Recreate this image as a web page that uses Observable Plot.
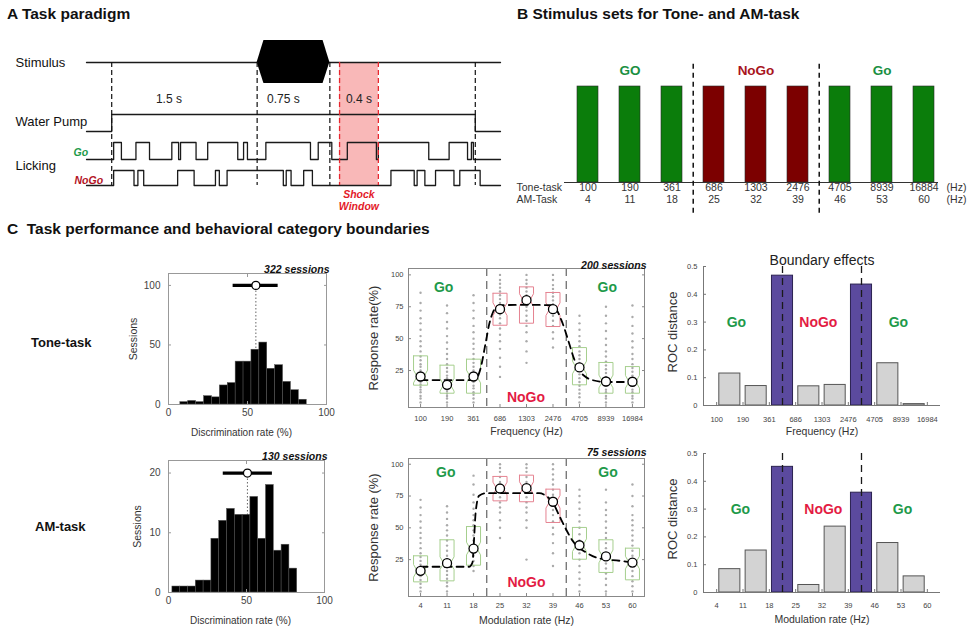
<!DOCTYPE html>
<html><head><meta charset="utf-8">
<script src="https://cdn.jsdelivr.net/npm/d3@7"></script>
<script src="https://cdn.jsdelivr.net/npm/@observablehq/plot@0.6"></script>
<style>
body{margin:0;background:#fff;}
#root{position:relative;width:972px;height:633px;overflow:hidden;background:#fff;font-family:'Liberation Sans',Arial,Helvetica,sans-serif;}
</style></head><body><div id="root"></div>
<script>
// ---------------- DATA ----------------
// Panel A: trial timing (seconds from trial start)
const traceSpan = [-0.26, 4.01];
const eventTimes = [0, 1.5, 2.25, 3.75];
const stimOn = [1.5, 2.25];
const stimRamp = 0.07;
const pumpOn = [0, 3.75];
const shockWindow = [2.35, 2.75];
const goLicks = [[0.02,0.10],[0.25,0.39],[0.62,0.69],[0.71,0.87],[0.99,1.30],[1.36,1.40],[1.59,2.05],[2.13,2.27],[2.43,2.73],[2.75,3.27],[3.48,3.67],[3.71,3.73]];
const nogoLicks = [[0.02,0.23],[0.27,0.33],[0.68,0.85],[1.07,1.11],[1.19,1.77],[1.80,1.85],[1.98,2.07],[2.88,3.12],[3.15,3.23],[3.34,3.53],[3.59,3.80]];
const durationTimes = [0.59, 1.77, 2.55];
const durationLabels = ["1.5 s", "0.75 s", "0.4 s"];

// Panel B: stimulus sets
const toneStimuli = ["100","190","361","686","1303","2476","4705","8939","16884"];
const amStimuli = ["4","11","18","25","32","39","46","53","60"];
const stimCategory = ["Go","Go","Go","NoGo","NoGo","NoGo","Go","Go","Go"];
const groupLabels = [{s:"190", label:"GO", c:"Go"}, {s:"1303", label:"NoGo", c:"NoGo"}, {s:"8939", label:"Go", c:"Go"}];

// Panel C: histograms of discrimination rate (5 % bins)
const histBin = 5;
const toneHistStart = 7.5;
const toneHistCounts = [2,3,2,7,6,16,18,36,36,46,52,30,33,19,12,4];
const toneMean = 55.3, toneErr = [40.9, 69.4];
const amHistStart = 2.5;
const amHistCounts = [1,1,1,2,2,9,12,14,13,13,16,9,18,7,8,4];
const amMean = 50.6, amErr = [35.1, 66.6];

// Panel C: response rates
const toneTickLabels = ["100","190","361","686","1303","2476","4705","8939","16984"];
const amTickLabels = ["4","11","18","25","32","39","46","53","60"];
const toneQ1 = [13.5, 7.2, 7.2, 60.5, 62.1, 59.5, 13.8, 7.2, 7.2];
const toneQ3 = [36.5, 29.2, 33.9, 85.6, 90.6, 86.2, 43.0, 31.3, 28.1];
const toneMed = [20.3, 13.8, 20.3, 73.1, 80.2, 73.1, 27.4, 16.4, 16.2];
const toneMeanRate = [20.3, 13.8, 20.3, 73.1, 80.2, 73.1, 27.4, 16.4, 16.2];
const amQ1 = [7.5, 8.3, 20.6, 71.2, 70.5, 54.2, 25.3, 14.9, 9.1];
const amQ3 = [28.0, 40.6, 51.0, 90.4, 91.4, 80.4, 50.3, 40.6, 34.0];
const amMed = [16.2, 22.2, 33.7, 80.9, 81.2, 70.5, 36.3, 27.5, 22.7];
const amMeanRate = [16.2, 22.2, 33.7, 80.9, 81.2, 70.5, 36.3, 27.5, 22.7];
const toneFit = [[0,17.5],[1,17.5],[2,17.5],[2.15,20],[2.27,27],[2.46,47],[2.6,62],[2.73,70.5],[2.85,74.5],[3,76.2],[4,76.5],[4.97,76.2],[5.15,72],[5.35,62.7],[5.6,47],[5.8,33.9],[6,24.8],[6.2,20.5],[6.38,18.2],[7,16],[8,16]];
const amFit = [[0,19.4],[1,19.4],[1.83,19.4],[1.96,22.7],[2.02,41],[2.08,62],[2.21,75.2],[2.46,77.2],[3,77.2],[4,77.2],[4.48,77.2],[4.73,75.2],[4.99,69.9],[5.24,59.4],[5.49,48.9],[5.74,39.8],[6.25,30.6],[6.75,25.9],[7.51,24.1],[8,22.7]];
const toneDots = [
  [0,3,5,8,10,12,14,16,18,20,22,25,28,30,33,36,40,44,48,52,57,62,66,72,78,86],
  [0,3,5,7,9,11,13,15,17,19,21,24,27,30,34,38,42,47,52,58,63,70,76],
  [0,3,6,8,11,13,16,19,22,25,28,31,34,38,42,46,50,55,60,66,72,78,84],
  [20,28,35,42,48,53,58,62,66,69,72,75,78,81,84,87,90,93,96,100],
  [31,40,48,55,60,64,68,72,75,78,81,84,87,90,93,96,100],
  [43,50,55,60,64,68,71,74,77,80,83,86,89,92,96,100],
  [0,4,7,10,13,16,19,22,25,28,31,34,37,40,44,48,52,57,62,68],
  [0,3,5,8,10,13,15,18,20,23,26,29,32,36,40,45,50,56,62,68,75],
  [0,3,5,8,10,13,15,18,21,24,27,30,34,38,43,48,54,60,67,76]
];
const amDots = [
  [0,3,6,9,12,15,18,21,24,27,30,34,38,42,46,50,55,60,66,72],
  [0,4,7,10,13,16,19,22,25,28,32,36,40,44,48,52,57,62,67],
  [16,20,24,28,32,36,40,44,48,52,56,60,65,70,76,84,91],
  [42,50,56,62,66,70,74,78,82,86,90,94,97,100],
  [25,50,56,62,66,70,74,78,82,86,90,94,97,100],
  [20,30,38,45,50,55,60,64,68,72,76,80,84,88,92,96,100],
  [0,5,10,15,20,25,30,35,40,45,50,55,60,65,70,75,80],
  [0,5,10,14,18,22,26,30,34,38,42,46,50,55,60,64,70,80],
  [0,4,8,12,16,20,24,28,32,36,40,44,48,52,56,60,67,75,84]
];

// Panel C: ROC distance between neighbouring stimuli
const toneRoc = [0.115, 0.070, 0.467, 0.069, 0.074, 0.435, 0.152, 0.005];
const amRoc = [0.084, 0.151, 0.452, 0.027, 0.237, 0.359, 0.178, 0.058];
const boundaryPairs = [2, 5];

// ---------------- STYLE / HELPERS ----------------
const FONT = "'Liberation Sans', Arial, Helvetica, sans-serif";
const GO_C = "#1e9a4a", NOGO_C = "#e31b43";
const B_GREEN = "#0b7d0b", B_RED = "#7c0000", B_GO_T = "#1a8f42", B_NOGO_T = "#a8141c";
const TICK_C = "#444", AX_C = "#333";
const base = {background:"transparent", fontFamily:FONT, overflow:"visible"};
const root = document.getElementById("root");
function place(node, left, top, z) {
  node.style.position = "absolute"; node.style.left = left + "px"; node.style.top = top + "px";
  if (z) node.style.zIndex = z;
  root.appendChild(node);
}
function label(text, left, top, css) {
  const d = document.createElement("div"); d.textContent = text;
  d.style.cssText = "white-space:pre;color:#111;font-family:" + FONT + ";" + css;
  place(d, left, top);
}
const blank = () => "";

// ---------------- PANEL A ----------------
const AY = {stim:62, stimTop:40, stimBot:83, pumpLo:131, pumpHi:114, goLo:159, goHi:142, nogoLo:185, nogoHi:170, dur:99};
function steps(bouts, lo, hi) {
  const pts = [{t:traceSpan[0], y:lo}];
  for (const [a, b] of bouts) pts.push({t:a, y:lo}, {t:a, y:hi}, {t:b, y:hi}, {t:b, y:lo});
  pts.push({t:traceSpan[1], y:lo});
  return pts;
}
const hex = [
  {t:stimOn[0], y1:AY.stim, y2:AY.stim},
  {t:stimOn[0] + stimRamp, y1:AY.stimBot, y2:AY.stimTop},
  {t:stimOn[1] - stimRamp, y1:AY.stimBot, y2:AY.stimTop},
  {t:stimOn[1], y1:AY.stim, y2:AY.stim}
];
const traceStyle = {x:"t", y:"y", stroke:"#1a1a1a", strokeWidth:1.3};
const rowLabels = [{label:"Stimulus", y:AY.stim}, {label:"Water Pump", y:121}, {label:"Licking", y:165}];
const panelA = Plot.plot({
  width:500, height:215, margin:0, style:base,
  x:{domain:traceSpan, range:[86, 500], axis:null},
  y:{domain:[0, 215], range:[0, 215], axis:null},
  marks:[
    Plot.rect([shockWindow], {x1:d => d[0], x2:d => d[1], y1:AY.stim, y2:AY.nogoLo, fill:"#f9b8b8"}),
    Plot.line([{t:traceSpan[0], y:AY.stim}, {t:traceSpan[1], y:AY.stim}], traceStyle),
    Plot.areaY(hex, {x:"t", y1:"y1", y2:"y2", fill:"#000"}),
    Plot.line(steps([pumpOn], AY.pumpLo, AY.pumpHi), traceStyle),
    Plot.line(steps(goLicks, AY.goLo, AY.goHi), traceStyle),
    Plot.line(steps(nogoLicks, AY.nogoLo, AY.nogoHi), traceStyle),
    Plot.ruleX(eventTimes, {y1:AY.stim, y2:AY.nogoLo, stroke:"#111", strokeWidth:1.2, strokeDasharray:"5,3"}),
    Plot.ruleX(shockWindow, {y1:AY.stim, y2:AY.nogoLo, stroke:"#e8262e", strokeWidth:1.3, strokeDasharray:"5,3"}),
    Plot.text(durationTimes, {x:d => d, y:AY.dur, text:(d, i) => durationLabels[i], fontSize:12, fill:"#222"}),
    Plot.text(rowLabels, {frameAnchor:"left", dx:15, y:"y", text:"label", textAnchor:"start", fontSize:13, fill:"#111"}),
    Plot.text(["Go"], {frameAnchor:"left", dx:73, y:152, textAnchor:"start", fontSize:10.5, fontWeight:"bold", fontStyle:"italic", fill:GO_C}),
    Plot.text(["NoGo"], {frameAnchor:"left", dx:74, y:180, textAnchor:"start", fontSize:10.5, fontWeight:"bold", fontStyle:"italic", fill:"#b3131f"}),
    Plot.text(["Shock", "Window"], {x:(shockWindow[0] + shockWindow[1]) / 2, y:(d, i) => 194 + i * 12, fontSize:10.5, fontWeight:"bold", fontStyle:"italic", fill:"#e31b2a"})
  ]
});
place(panelA, 0, 0, 2);

// ---------------- PANEL B ----------------
const bStep = (482 - 74 - 26) / 9;
const bRowText = {fontSize:10.5, fill:AX_C};
const panelB = Plot.plot({
  width:482, height:220, marginLeft:74, marginRight:26, marginTop:86, marginBottom:38, style:base,
  x:{type:"band", domain:toneStimuli, paddingInner:0.5, paddingOuter:0.25, axis:null},
  y:{domain:[0, 1], axis:null},
  marks:[
    Plot.barY(toneStimuli.map((s, i) => ({s, c:stimCategory[i], v:1})), {x:"s", y:"v", fill:d => d.c === "Go" ? B_GREEN : B_RED, stroke:"#2a2a2a", strokeWidth:0.6}),
    Plot.ruleY([0], {insetRight:8, stroke:"#333", strokeWidth:1}),
    Plot.ruleX(["361", "2476"], {dx:bStep / 2, y1:-0.32, y2:1.27, stroke:"#111", strokeWidth:1.5, strokeDasharray:"5,4"}),
    Plot.text(groupLabels, {x:"s", text:"label", frameAnchor:"top", dy:-21, fontSize:13.5, fontWeight:"bold", fill:d => d.c === "Go" ? B_GO_T : B_NOGO_T}),
    Plot.text(toneStimuli, {x:d => d, frameAnchor:"bottom", dy:8, ...bRowText}),
    Plot.text(amStimuli, {x:(d, i) => toneStimuli[i], frameAnchor:"bottom", dy:20, ...bRowText}),
    Plot.text(["Tone-task"], {frameAnchor:"bottom-left", dx:-48, dy:8, textAnchor:"start", ...bRowText}),
    Plot.text(["AM-Task"], {frameAnchor:"bottom-left", dx:-48, dy:20, textAnchor:"start", ...bRowText}),
    Plot.text(["(Hz)"], {frameAnchor:"bottom-right", dx:10, dy:8, textAnchor:"middle", ...bRowText}),
    Plot.text(["(Hz)"], {frameAnchor:"bottom-right", dx:10, dy:20, textAnchor:"middle", ...bRowText})
  ]
});
place(panelB, 490, 0, 1);

// ---------------- HISTOGRAMS ----------------
function makeHist(counts, start, mean, err, yMax, yTicks, markY, sessions, m, labelDx) {
  const bins = counts.map((c, k) => ({x1:start + k * histBin, x2:start + (k + 1) * histBin, c}));
  const xt = [0, 50, 100];
  return Plot.plot({
    width:230, height:190, marginLeft:m.l, marginRight:m.r, marginTop:m.t, marginBottom:m.b, style:base,
    x:{domain:[0, 100]}, y:{domain:[0, yMax]},
    marks:[
      Plot.ruleX([mean], {y1:0, y2:markY, stroke:"#666", strokeDasharray:"1.5,2"}),
      Plot.rectY(bins, {x1:"x1", x2:"x2", y:"c", fill:"#000", stroke:"#555", strokeWidth:0.5}),
      Plot.frame({stroke:"#999"}),
      Plot.axisX({ticks:xt, tickSize:0, tickPadding:4, fontSize:10, fill:TICK_C, label:null}),
      Plot.axisX({ticks:xt, tickSize:-3, tickFormat:blank, stroke:"#999", label:null}),
      Plot.axisX({anchor:"top", ticks:xt, tickSize:-3, tickFormat:blank, stroke:"#999", label:null}),
      Plot.axisY({ticks:yTicks, tickSize:0, tickPadding:8, fontSize:10, fill:TICK_C, label:null}),
      Plot.axisY({ticks:yTicks, tickSize:-3, tickFormat:blank, stroke:"#999", label:null}),
      Plot.axisY({anchor:"right", ticks:yTicks, tickSize:-3, tickFormat:blank, stroke:"#999", label:null}),
      Plot.ruleY([{y:markY, a:err[0], b:err[1]}], {y:"y", x1:"a", x2:"b", strokeWidth:3.2, stroke:"#000"}),
      Plot.dot([{x:mean, y:markY}], {x:"x", y:"y", r:4, fill:"#fff", stroke:"#000", strokeWidth:1.3}),
      Plot.text([sessions], {frameAnchor:"top-right", dx:3, dy:-8, textAnchor:"end", fontSize:10.5, fontWeight:"bold", fontStyle:"italic", fill:"#111"}),
      Plot.text(["Sessions"], {frameAnchor:"left", dx:labelDx, rotate:-90, textAnchor:"middle", fontSize:10.5, fill:AX_C}),
      Plot.text(["Discrimination rate (%)"], {frameAnchor:"bottom", dx:-6, dy:31, fontSize:10, fill:AX_C})
    ]
  });
}
place(makeHist(toneHistCounts, toneHistStart, toneMean, toneErr, 110, [0, 50, 100], 100, "322 sessions", {l:58, r:14, t:15, b:44}, -35), 110, 258);
place(makeHist(amHistCounts, amHistStart, amMean, amErr, 22.1, [0, 10, 20], 20, "130 sessions", {l:58, r:16, t:20, b:38}, -31), 110, 440);

// ---------------- BOX PLOTS ----------------
function notchBox(i, q1, q3, med, notch, c) {
  const w = 0.265, wi = 0.13;
  const nl = Math.max(q1, med - notch), nh = Math.min(q3, med + notch);
  return [[i - w, q3], [i + w, q3], [i + w, nh], [i + wi, med], [i + w, nl], [i + w, q1], [i - w, q1], [i - w, nl], [i - wi, med], [i - w, nh], [i - w, q3]]
    .map(([x, y]) => ({i, x, y, c}));
}
function makeBox(cfg) {
  const boxes = cfg.q1.flatMap((q, i) => notchBox(i, q, cfg.q3[i], cfg.med[i], 5, stimCategory[i] === "Go" ? "#a6cf8e" : "#e58391"));
  const dots = cfg.dots.flatMap((vals, i) => vals.map(v => ({x:i, y:v})));
  const ticks = d3.range(9);
  const yt = [25, 50, 75, 100];
  return Plot.plot({
    width:310, height:200, marginLeft:68, marginRight:6, marginTop:28, marginBottom:cfg.mb, style:base,
    x:{domain:[-0.455, 8.455]}, y:{domain:cfg.yDomain},
    marks:[
      Plot.dot(dots, {x:"x", y:"y", r:1.2, fill:"#aaaaaa", stroke:null}),
      Plot.ruleX([2.5, 5.5], {stroke:"#555", strokeWidth:1.1, strokeDasharray:"8,5"}),
      Plot.line(boxes, {x:"x", y:"y", z:"i", stroke:"c", strokeWidth:1}),
      Plot.line(cfg.fit, {x:d => d[0], y:d => d[1], curve:"monotone-x", stroke:"#000", strokeWidth:1.8, strokeDasharray:"7,5"}),
      Plot.dot(cfg.mean, {x:(d, i) => i, y:d => d, r:4.5, fill:"#fff", stroke:"#000", strokeWidth:1.3}),
      Plot.frame({stroke:"#888"}),
      Plot.axisX({ticks, tickFormat:i => cfg.labels[i], tickSize:0, tickPadding:cfg.xPad, fontSize:7.5, fill:TICK_C, label:null}),
      Plot.axisX({ticks, tickSize:-3, tickFormat:blank, stroke:"#888", label:null}),
      Plot.axisY({ticks:yt, tickSize:0, tickPadding:5, fontSize:7.5, fill:TICK_C, label:null}),
      Plot.axisY({ticks:yt, tickSize:-3, tickFormat:blank, stroke:"#888", label:null}),
      Plot.axisY({anchor:"right", ticks:yt, tickSize:-3, tickFormat:blank, stroke:"#888", label:null}),
      Plot.text(cfg.goPos, {x:d => d[0], y:d => d[1], text:() => "Go", fontSize:14, fontWeight:"bold", fill:GO_C}),
      Plot.text([cfg.nogoPos], {x:d => d[0], y:d => d[1], text:() => "NoGo", fontSize:14, fontWeight:"bold", fill:NOGO_C}),
      Plot.text([cfg.sessions], {frameAnchor:"top-right", dx:2, dy:cfg.sDy, textAnchor:"end", fontSize:10.5, fontWeight:"bold", fontStyle:"italic", fill:"#111"}),
      Plot.text([cfg.yLabel], {frameAnchor:"left", dx:-35, rotate:-90, textAnchor:"middle", fontSize:13, fill:AX_C}),
      Plot.text([cfg.xLabel], {frameAnchor:"bottom", dy:27, fontSize:10.5, fill:AX_C})
    ]
  });
}
place(makeBox({labels:toneTickLabels, q1:toneQ1, q3:toneQ3, med:toneMed, mean:toneMeanRate, fit:toneFit, dots:toneDots,
  yDomain:[-4, 105], mb:33, xPad:8, sessions:"200 sessions", sDy:-7, yLabel:"Response rate(%)", xLabel:"Frequency (Hz)",
  goPos:[[0.87, 90], [7.05, 90]], nogoPos:[3.98, 3.8]}), 340, 240);
place(makeBox({labels:amTickLabels, q1:amQ1, q3:amQ3, med:amMed, mean:amMeanRate, fit:amFit, dots:amDots,
  yDomain:[-4, 104.5], mb:34, xPad:6, sessions:"75 sessions", sDy:-10, yLabel:"Response rate (%)", xLabel:"Modulation rate (Hz)",
  goPos:[[0.95, 93.5], [7.08, 93.5]], nogoPos:[4.0, 7.0]}), 340, 430);

// ---------------- ROC DISTANCE ----------------
function makeRoc(cfg) {
  const bars = cfg.values.map((v, i) => ({i, v, b:boundaryPairs.includes(i)}));
  const yt = [0, 0.1, 0.2, 0.3, 0.4, 0.5];
  const ticks = d3.range(9);
  return Plot.plot({
    width:332, height:200, marginLeft:63, marginRight:32, marginTop:cfg.mt, marginBottom:cfg.mb, style:base,
    x:{domain:[-0.5, 8.5]}, y:{domain:[0, 0.5]},
    marks:[
      Plot.rectY(bars, {x1:d => d.i + 0.1, x2:d => d.i + 0.9, y:"v", fill:d => d.b ? "#5b4a9e" : "#d3d3d3", stroke:d => d.b ? "#2b2250" : "#555", strokeWidth:1}),
      Plot.ruleX(boundaryPairs.map(i => i + 0.5), {y1:0, y2:0.5, stroke:"#1a1a1a", strokeWidth:1.3, strokeDasharray:"7,5"}),
      Plot.ruleX([-0.5], {y1:0, y2:0.5, stroke:"#777"}),
      Plot.ruleY([0], {stroke:"#777"}),
      Plot.axisX({ticks, tickFormat:i => cfg.labels[i], tickSize:0, tickPadding:cfg.xPad, fontSize:7.5, fill:TICK_C, label:null}),
      Plot.axisX({ticks, tickSize:-3, tickFormat:blank, stroke:"#777", label:null}),
      Plot.axisY({ticks:yt, tickFormat:d => d === 0 ? "0" : d.toFixed(1), tickSize:0, tickPadding:6, fontSize:7.5, fill:TICK_C, label:null}),
      Plot.axisY({ticks:yt, tickSize:-3, tickFormat:blank, stroke:"#777", label:null}),
      Plot.text(cfg.goPos, {x:d => d, y:0.3, text:() => "Go", fontSize:14, fontWeight:"bold", fill:GO_C}),
      Plot.text([cfg.nogoPos], {x:d => d, y:0.3, text:() => "NoGo", fontSize:14, fontWeight:"bold", fill:NOGO_C}),
      Plot.text(["ROC distance"], {frameAnchor:"left", dx:-31, dy:-4, rotate:-90, textAnchor:"middle", fontSize:13, fill:AX_C}),
      Plot.text([cfg.xLabel], {frameAnchor:"bottom", dy:cfg.xlDy, fontSize:10.5, fill:AX_C}),
      ...(cfg.title ? [Plot.text([cfg.title], {frameAnchor:"top", dy:-11, fontSize:14, fill:"#222"})] : [])
    ]
  });
}
place(makeRoc({values:toneRoc, labels:toneTickLabels, mt:26, mb:35, xPad:11, xLabel:"Frequency (Hz)", xlDy:29,
  title:"Boundary effects", goPos:[0.75, 6.9], nogoPos:3.86}), 640, 240);
place(makeRoc({values:amRoc, labels:amTickLabels, mt:23, mb:38, xPad:10, xLabel:"Modulation rate (Hz)", xlDy:30,
  goPos:[0.9, 7.06], nogoPos:4.05}), 640, 430);

// ---------------- HEADINGS ----------------
label("A Task paradigm", 7, 5, "font-weight:bold;font-size:15.5px;line-height:18px;");
label("B Stimulus sets for Tone- and AM-task", 517, 5, "font-weight:bold;font-size:15.5px;line-height:18px;");
label("C  Task performance and behavioral category boundaries", 7, 220, "font-weight:bold;font-size:15.5px;line-height:18px;");
label("Tone-task", 31, 335, "font-weight:bold;font-size:13px;line-height:16px;");
label("AM-task", 35, 519, "font-weight:bold;font-size:13px;line-height:16px;");
</script></body></html>
